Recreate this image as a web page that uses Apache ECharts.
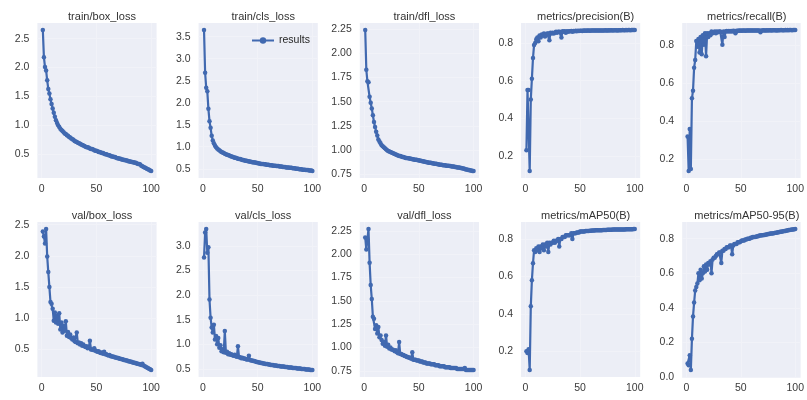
<!DOCTYPE html>
<html>
<head>
<meta charset="utf-8">
<script src="https://cdn.jsdelivr.net/npm/echarts@6/dist/echarts.min.js"></script>
<style>
html,body{margin:0;padding:0;background:#fff;}
#c{width:807px;height:400px;}
</style>
</head>
<body>
<div id="c"></div>
<script>
const titles = ['train/box_loss','train/cls_loss','train/dfl_loss','metrics/precision(B)','metrics/recall(B)',
  'val/box_loss','val/cls_loss','val/dfl_loss','metrics/mAP50(B)','metrics/mAP50-95(B)'];

const epochs = [1,2,3,4,5,6,7,8,9,10,11,12,13,14,15,16,17,18,19,20,
 21,22,23,24,25,26,27,28,29,30,31,32,33,34,35,36,37,38,39,40,
 41,42,43,44,45,46,47,48,49,50,51,52,53,54,55,56,57,58,59,60,
 61,62,63,64,65,66,67,68,69,70,71,72,73,74,75,76,77,78,79,80,
 81,82,83,84,85,86,87,88,89,90,91,92,93,94,95,96,97,98,99,100];

const trainBox = [2.65,2.18,2.01,1.95,1.78,1.63,1.55,1.45,1.37,1.29,
 1.22,1.15,1.09,1.04,1.00,0.97,0.94,0.92,0.90,0.88,
 0.86,0.85,0.83,0.82,0.80,0.79,0.77,0.76,0.75,0.73,
 0.72,0.71,0.70,0.69,0.68,0.67,0.66,0.65,0.64,0.63,
 0.62,0.62,0.61,0.60,0.59,0.59,0.58,0.57,0.56,0.56,
 0.55,0.54,0.54,0.53,0.52,0.52,0.51,0.50,0.50,0.49,
 0.48,0.48,0.47,0.46,0.46,0.45,0.45,0.44,0.43,0.43,
 0.42,0.42,0.41,0.41,0.40,0.40,0.39,0.39,0.38,0.38,
 0.37,0.37,0.36,0.36,0.35,0.35,0.34,0.33,0.33,0.32,
 0.30,0.29,0.28,0.27,0.26,0.25,0.24,0.23,0.22,0.21];

const trainCls = [3.65,2.68,2.34,2.26,1.86,1.58,1.43,1.25,1.14,1.08,
 1.03,0.99,0.96,0.94,0.92,0.90,0.88,0.87,0.86,0.84,
 0.83,0.82,0.81,0.80,0.79,0.78,0.77,0.76,0.75,0.75,
 0.74,0.73,0.72,0.72,0.71,0.70,0.70,0.69,0.68,0.68,
 0.67,0.67,0.66,0.66,0.65,0.65,0.64,0.64,0.63,0.63,
 0.62,0.62,0.61,0.61,0.61,0.60,0.60,0.59,0.59,0.59,
 0.58,0.58,0.58,0.57,0.57,0.57,0.56,0.56,0.56,0.55,
 0.55,0.55,0.54,0.54,0.54,0.53,0.53,0.53,0.52,0.52,
 0.52,0.51,0.51,0.51,0.50,0.50,0.50,0.49,0.49,0.49,
 0.48,0.48,0.48,0.47,0.47,0.47,0.46,0.46,0.46,0.45];

const trainDfl = [2.24,1.83,1.71,1.70,1.55,1.49,1.43,1.36,1.29,1.24,
 1.19,1.15,1.11,1.09,1.07,1.05,1.04,1.03,1.02,1.01,
 1.00,0.99,0.985,0.98,0.975,0.97,0.965,0.96,0.955,0.95,
 0.945,0.94,0.94,0.935,0.93,0.93,0.925,0.92,0.92,0.915,
 0.915,0.91,0.91,0.905,0.905,0.90,0.90,0.90,0.895,0.895,
 0.89,0.89,0.885,0.885,0.88,0.88,0.875,0.875,0.87,0.87,
 0.87,0.865,0.865,0.86,0.86,0.86,0.855,0.855,0.85,0.85,
 0.85,0.845,0.845,0.845,0.84,0.84,0.84,0.835,0.835,0.83,
 0.83,0.83,0.825,0.825,0.82,0.82,0.82,0.815,0.815,0.81,
 0.81,0.805,0.80,0.80,0.795,0.795,0.79,0.79,0.785,0.785];

const precision = [0.23,0.55,0.55,0.12,0.50,0.61,0.72,0.79,0.80,0.82,
 0.83,0.81,0.84,0.83,0.845,0.84,0.85,0.835,0.845,0.85,
 0.85,0.815,0.855,0.85,0.855,0.85,0.855,0.86,0.855,0.86,
 0.86,0.858,0.83,0.862,0.86,0.862,0.855,0.863,0.86,0.863,
 0.862,0.864,0.86,0.864,0.862,0.865,0.863,0.865,0.864,0.865,
 0.865,0.864,0.866,0.865,0.866,0.865,0.866,0.866,0.865,0.866,
 0.866,0.867,0.866,0.867,0.866,0.867,0.867,0.866,0.867,0.867,
 0.867,0.867,0.868,0.867,0.867,0.868,0.867,0.868,0.868,0.867,
 0.868,0.868,0.868,0.867,0.868,0.868,0.868,0.868,0.869,0.868,
 0.868,0.869,0.868,0.869,0.869,0.868,0.869,0.869,0.869,0.869];

const recall = [0.32,0.14,0.36,0.15,0.52,0.56,0.68,0.72,0.82,0.79,
 0.83,0.76,0.84,0.75,0.85,0.80,0.86,0.74,0.86,0.84,
 0.86,0.85,0.87,0.86,0.865,0.87,0.86,0.87,0.865,0.87,
 0.87,0.865,0.80,0.87,0.84,0.87,0.872,0.87,0.872,0.87,
 0.872,0.87,0.873,0.872,0.86,0.873,0.872,0.874,0.873,0.874,
 0.873,0.874,0.874,0.873,0.874,0.874,0.875,0.874,0.874,0.875,
 0.874,0.875,0.875,0.874,0.875,0.875,0.875,0.865,0.875,0.875,
 0.876,0.875,0.875,0.876,0.875,0.876,0.876,0.875,0.876,0.876,
 0.876,0.876,0.875,0.876,0.876,0.876,0.877,0.876,0.876,0.876,
 0.877,0.876,0.877,0.876,0.877,0.877,0.876,0.877,0.877,0.877];

const valBox = [2.39,2.31,2.20,2.43,1.99,1.74,1.50,1.26,1.23,1.15,
 0.96,1.09,0.93,1.04,0.91,1.08,0.82,0.93,0.77,0.88,
 0.80,0.95,0.72,0.78,0.70,0.74,0.68,0.66,0.69,0.63,
 0.62,0.77,0.60,0.61,0.58,0.60,0.56,0.58,0.55,0.54,
 0.55,0.52,0.53,0.64,0.50,0.50,0.49,0.52,0.48,0.47,
 0.46,0.47,0.45,0.44,0.45,0.43,0.46,0.42,0.42,0.41,
 0.40,0.41,0.39,0.39,0.38,0.38,0.37,0.37,0.36,0.36,
 0.35,0.35,0.34,0.34,0.33,0.33,0.32,0.32,0.31,0.31,
 0.30,0.30,0.29,0.29,0.28,0.28,0.27,0.27,0.26,0.26,
 0.25,0.27,0.24,0.23,0.22,0.21,0.20,0.19,0.18,0.17];

const valCls = [2.76,3.27,3.34,2.86,2.97,1.91,1.54,1.34,1.24,1.40,
 1.10,1.17,1.00,1.13,0.93,0.98,0.86,0.90,0.84,1.27,
 0.83,0.85,0.80,0.82,0.79,0.80,0.78,0.77,0.79,0.76,
 0.75,0.96,0.74,0.74,0.72,0.73,0.71,0.71,0.70,0.69,
 0.69,0.77,0.68,0.67,0.67,0.66,0.66,0.65,0.64,0.64,
 0.63,0.63,0.62,0.62,0.61,0.61,0.60,0.60,0.60,0.59,
 0.59,0.58,0.58,0.58,0.57,0.57,0.57,0.56,0.56,0.56,
 0.55,0.55,0.55,0.55,0.54,0.54,0.54,0.53,0.53,0.53,
 0.53,0.52,0.52,0.52,0.52,0.51,0.51,0.51,0.51,0.50,
 0.50,0.50,0.50,0.49,0.49,0.49,0.49,0.48,0.48,0.48];

const valDfl = [2.18,2.05,2.16,2.27,1.91,1.67,1.52,1.33,1.31,1.20,
 1.24,1.15,1.22,1.11,1.13,1.08,1.04,1.06,1.02,1.13,
 1.01,1.03,0.99,1.00,0.98,0.98,0.97,0.96,0.97,0.95,
 0.94,1.06,0.93,0.93,0.92,0.92,0.91,0.91,0.90,0.90,
 0.89,0.89,0.88,0.95,0.87,0.87,0.87,0.86,0.86,0.86,
 0.85,0.85,0.85,0.84,0.84,0.84,0.83,0.83,0.83,0.83,
 0.82,0.82,0.82,0.82,0.81,0.81,0.81,0.81,0.80,0.80,
 0.80,0.80,0.80,0.79,0.79,0.79,0.79,0.79,0.78,0.78,
 0.78,0.78,0.78,0.78,0.77,0.77,0.77,0.77,0.77,0.77,
 0.77,0.78,0.76,0.76,0.76,0.76,0.76,0.76,0.76,0.76];

const mAP50 = [0.20,0.19,0.21,0.10,0.44,0.58,0.67,0.74,0.73,0.75,
 0.74,0.76,0.73,0.76,0.75,0.77,0.74,0.77,0.76,0.78,
 0.73,0.78,0.77,0.78,0.78,0.79,0.78,0.79,0.79,0.80,
 0.76,0.80,0.80,0.81,0.81,0.81,0.82,0.82,0.82,0.82,
 0.82,0.83,0.80,0.83,0.83,0.83,0.835,0.835,0.835,0.84,
 0.84,0.84,0.84,0.84,0.842,0.842,0.843,0.843,0.844,0.844,
 0.845,0.845,0.845,0.846,0.846,0.846,0.847,0.847,0.847,0.847,
 0.848,0.848,0.848,0.848,0.849,0.849,0.849,0.849,0.849,0.85,
 0.85,0.85,0.85,0.85,0.85,0.851,0.851,0.851,0.851,0.851,
 0.851,0.852,0.852,0.852,0.852,0.852,0.852,0.852,0.853,0.853];

const mAP5095 = [0.077,0.067,0.125,0.04,0.22,0.35,0.43,0.50,0.52,0.54,
 0.60,0.56,0.62,0.57,0.60,0.64,0.61,0.65,0.62,0.66,
 0.65,0.67,0.60,0.68,0.69,0.69,0.70,0.71,0.71,0.72,
 0.72,0.66,0.73,0.73,0.74,0.74,0.75,0.75,0.75,0.76,
 0.76,0.71,0.76,0.77,0.77,0.77,0.78,0.78,0.78,0.785,
 0.79,0.79,0.79,0.795,0.795,0.80,0.80,0.80,0.805,0.805,
 0.81,0.81,0.81,0.812,0.815,0.815,0.818,0.818,0.82,0.82,
 0.822,0.822,0.825,0.825,0.827,0.827,0.83,0.83,0.83,0.832,
 0.833,0.835,0.835,0.837,0.838,0.84,0.84,0.842,0.843,0.845,
 0.845,0.847,0.848,0.85,0.85,0.852,0.853,0.854,0.855,0.856];

const xTicks = [0, 50, 100];
const yTicks = [
  [0.5,1.0,1.5,2.0,2.5],
  [0.5,1.0,1.5,2.0,2.5,3.0,3.5],
  [0.75,1.00,1.25,1.50,1.75,2.00,2.25],
  [0.2,0.4,0.6,0.8],
  [0.2,0.4,0.6,0.8],
  [0.5,1.0,1.5,2.0,2.5],
  [0.5,1.0,1.5,2.0,2.5,3.0],
  [0.75,1.00,1.25,1.50,1.75,2.00,2.25],
  [0.2,0.4,0.6,0.8],
  [0.0,0.2,0.4,0.6,0.8]
];
const yDecimals = [1,1,2,1,1,1,1,2,1,1];
const seriesData = [trainBox,trainCls,trainDfl,precision,recall,valBox,valCls,valDfl,mAP50,mAP5095];

const chart = echarts.init(document.getElementById('c'), null, {renderer:'canvas'});
const colLeft = [37.4, 198.6, 359.8, 521.0, 682.2];
const rowTop = [23, 222];
const W = 119.2, H = 155;
const FONT = 'Liberation Sans, Arial, sans-serif';
const lineColor = '#4169b0';
const pad = v => (v.max - v.min) * 0.05;

const grids = [], xAxes = [], yAxes = [], series = [], titleArr = [];
for (let i = 0; i < 10; i++) {
  const r = Math.floor(i / 5), c = i % 5;
  grids.push({left: colLeft[c], top: rowTop[r], width: W, height: H,
    show: true, backgroundColor: '#eceef6', borderWidth: 0, containLabel: false});
  xAxes.push({type: 'value', gridIndex: i,
    min: v => v.min - pad(v), max: v => v.max + pad(v),
    axisLine: {show: false}, axisTick: {show: false, customValues: xTicks},
    axisLabel: {customValues: xTicks, fontSize: 10.5, color: '#3a3a3a', margin: 6, fontFamily: FONT},
    splitLine: {show: true, lineStyle: {color: '#f1f2f8', width: 1}}});
  const d = yDecimals[i];
  yAxes.push({type: 'value', gridIndex: i,
    min: v => v.min - pad(v), max: v => v.max + pad(v),
    axisLine: {show: false}, axisTick: {show: false, customValues: yTicks[i]},
    axisLabel: {customValues: yTicks[i], fontSize: 10.5, color: '#3a3a3a', margin: 8, fontFamily: FONT,
      formatter: v => Number(v).toFixed(d)},
    splitLine: {show: true, lineStyle: {color: '#f1f2f8', width: 1}}});
  series.push({type: 'line', name: 'results', xAxisIndex: i, yAxisIndex: i,
    data: epochs.map((e, k) => [e, seriesData[i][k]]),
    symbol: 'circle', symbolSize: 4.5, showSymbol: true,
    lineStyle: {color: lineColor, width: 2.2}, itemStyle: {color: lineColor},
    emphasis: {disabled: true}, animation: false});
  titleArr.push({text: titles[i], left: colLeft[c] + W / 2, top: rowTop[r] - 17, textAlign: 'center',
    textStyle: {fontSize: 11, fontWeight: 'normal', color: '#333333', fontFamily: FONT}});
}

chart.setOption({
  animation: false,
  backgroundColor: '#ffffff',
  title: titleArr,
  grid: grids,
  xAxis: xAxes,
  yAxis: yAxes,
  legend: {data: ['results'], left: 246, top: 30, itemWidth: 22, itemHeight: 8,
    textStyle: {fontSize: 10.5, color: '#262626', fontFamily: FONT}, selectedMode: false},
  series: series
});
</script>
</body>
</html>
